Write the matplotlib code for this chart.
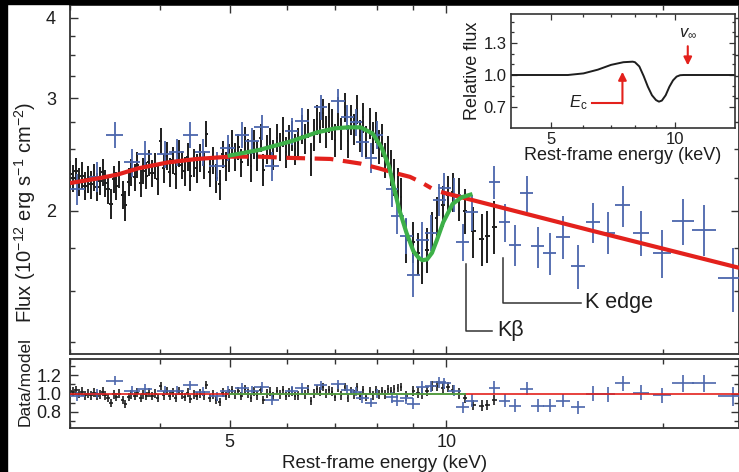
import matplotlib
matplotlib.use('Agg')
import matplotlib.pyplot as plt
from matplotlib.ticker import FixedLocator, NullFormatter
from matplotlib.patches import Rectangle

plt.rcParams['font.family'] = ['Liberation Sans', 'DejaVu Sans']
plt.rcParams['mathtext.fontset'] = 'custom'
plt.rcParams['mathtext.rm'] = 'Liberation Sans'
plt.rcParams['mathtext.it'] = 'Liberation Sans:italic'

# --- data (keV, 1e-12 erg/s/cm2) ---

# dense black spectrum
black_E = [3.00, 3.03, 3.06, 3.09, 3.12, 3.15, 3.18, 3.21, 3.24, 3.27,
           3.30, 3.33, 3.36, 3.39, 3.42, 3.45, 3.48, 3.51, 3.55, 3.58,
           3.62, 3.65, 3.69, 3.72, 3.76, 3.79, 3.83, 3.86, 3.90, 3.94,
           3.97, 4.01, 4.05, 4.09, 4.13, 4.17, 4.21, 4.25, 4.29, 4.33,
           4.37, 4.41, 4.46, 4.50, 4.55, 4.60, 4.64, 4.69, 4.74, 4.79,
           4.84, 4.89, 4.94, 4.99, 5.04, 5.09, 5.14, 5.19, 5.25, 5.30,
           5.35, 5.41, 5.46, 5.52, 5.57, 5.63, 5.69, 5.75, 5.81, 5.87,
           5.93, 5.99, 6.05, 6.11, 6.17, 6.23, 6.30, 6.36, 6.42, 6.48,
           6.54, 6.61, 6.67, 6.74, 6.80, 6.87, 6.94, 7.01, 7.08, 7.15,
           7.22, 7.29, 7.36, 7.44, 7.51, 7.59, 7.66, 7.74, 7.82, 7.90,
           7.98, 8.06, 8.14, 8.22, 8.30, 8.38, 8.47, 8.56, 8.65]
black_F = [2.28, 2.25, 2.31, 2.22, 2.27, 2.19, 2.24, 2.20, 2.26, 2.18,
           2.23, 2.30, 2.21, 2.16, 2.05, 2.24, 2.19, 2.28, 2.12, 2.04,
           2.22, 2.30, 2.26, 2.36, 2.21, 2.31, 2.27, 2.38, 2.29, 2.35,
           2.24, 2.57, 2.33, 2.44, 2.30, 2.40, 2.28, 2.46, 2.36, 2.31,
           2.43, 2.27, 2.38, 2.33, 2.42, 2.36, 2.64, 2.30, 2.40, 2.25,
           2.20, 2.45, 2.35, 2.42, 2.55, 2.43, 2.52, 2.38, 2.58, 2.47,
           2.35, 2.54, 2.44, 2.60, 2.32, 2.50, 2.56, 2.45, 2.60, 2.52,
           2.66, 2.47, 2.58, 2.62, 2.50, 2.55, 2.68, 2.59, 2.74, 2.41,
           2.63, 2.78, 2.70, 2.84, 2.66, 2.80, 2.73, 2.58, 2.86, 2.64,
           2.90, 2.57, 2.78, 2.68, 2.88, 2.62, 2.80, 2.56, 2.74, 2.60,
           2.70, 2.52, 2.58, 2.40, 2.47, 2.34, 2.26, 2.18, 2.10]
black_dF = [0.11, 0.11, 0.11, 0.11, 0.11, 0.11, 0.11, 0.11, 0.11, 0.11,
            0.11, 0.11, 0.11, 0.11, 0.11, 0.11, 0.11, 0.11, 0.11, 0.11,
            0.11, 0.11, 0.11, 0.11, 0.11, 0.11, 0.11, 0.11, 0.11, 0.11,
            0.12, 0.12, 0.12, 0.12, 0.12, 0.12, 0.12, 0.12, 0.12, 0.12,
            0.12, 0.12, 0.12, 0.12, 0.12, 0.12, 0.12, 0.12, 0.12, 0.12,
            0.12, 0.12, 0.12, 0.12, 0.12, 0.12, 0.12, 0.12, 0.12, 0.12,
            0.13, 0.13, 0.13, 0.13, 0.13, 0.13, 0.13, 0.13, 0.13, 0.13,
            0.14, 0.14, 0.14, 0.14, 0.14, 0.14, 0.14, 0.14, 0.14, 0.14,
            0.15, 0.15, 0.15, 0.15, 0.15, 0.15, 0.15, 0.15, 0.15, 0.15,
            0.15, 0.15, 0.15, 0.15, 0.15, 0.15, 0.15, 0.15, 0.15, 0.15,
            0.15, 0.15, 0.15, 0.15, 0.15, 0.15, 0.15, 0.15, 0.15]
black_ratio = [1.03, 1.02, 1.04, 1.00, 1.02, 0.98, 1.00, 0.98, 1.01, 0.97,
               0.99, 1.02, 0.98, 0.95, 0.90, 0.99, 0.96, 1.00, 0.93, 0.89,
               0.96, 0.99, 0.97, 1.01, 0.95, 0.99, 0.97, 1.01, 0.97, 1.00,
               0.95, 1.08, 0.98, 1.03, 0.97, 1.01, 0.95, 1.03, 0.99, 0.96,
               1.01, 0.94, 0.99, 0.97, 1.00, 0.98, 1.09, 0.95, 0.99, 0.93,
               0.91, 1.01, 0.97, 1.00, 1.04, 0.99, 1.03, 0.97, 1.05, 1.00,
               0.95, 1.02, 0.98, 1.04, 0.93, 1.00, 1.02, 0.97, 1.03, 0.99,
               1.04, 0.97, 1.01, 1.02, 0.97, 0.98, 1.03, 0.99, 1.05, 0.92,
               1.00, 1.05, 1.02, 1.07, 1.00, 1.04, 1.02, 0.96, 1.06, 0.98,
               1.07, 0.95, 1.03, 0.99, 1.07, 0.97, 1.04, 0.96, 1.03, 0.98,
               1.04, 0.99, 1.03, 0.99, 1.05, 1.03, 1.05, 1.06, 1.07]
BLACK_DE = 0.02

# sparser black points above the line
blk2_E = [8.80, 9.00, 9.13, 9.26, 9.40, 9.55, 9.70, 9.90, 10.05, 10.20,
          10.40, 10.60, 10.90, 11.19, 11.40, 11.66]
blk2_F = [1.80, 1.79, 1.72, 1.67, 1.74, 1.85, 1.95, 2.04, 2.12, 2.14,
          2.09, 2.00, 1.86, 1.81, 1.83, 1.89]
blk2_dF = [0.14, 0.13, 0.13, 0.13, 0.14, 0.14, 0.15, 0.15, 0.15, 0.15,
           0.16, 0.16, 0.17, 0.17, 0.17, 0.18]
blk2_dE = [0.04, 0.04, 0.05, 0.05, 0.05, 0.05, 0.05, 0.06, 0.06, 0.06,
           0.07, 0.07, 0.08, 0.08, 0.09, 0.09]
blk2_ratio = [0.97, 1.03, 1.01, 1.00, 1.03, 1.08, 1.08, 1.06, 1.07, 1.04,
              1.00, 0.95, 0.88, 0.87, 0.88, 0.93]

# blue spectrum
blue_E = [3.07, 3.27, 3.46, 3.66, 3.81, 4.06, 4.22, 4.41, 4.59, 4.80,
          4.97, 5.20, 5.37, 5.54, 5.72, 6.10, 6.30, 6.69, 7.07, 7.28,
          7.49, 7.64, 7.86, 8.01, 8.41, 8.55, 8.80, 9.00, 9.26, 9.53,
          9.78, 9.94, 10.26, 10.53, 10.84, 11.66, 12.05, 12.44, 12.93, 13.39,
          13.92, 14.51, 15.23, 15.98, 16.77, 17.59, 18.64, 19.94, 21.33, 22.82,
          25.04]
blue_F = [2.16, 2.26, 2.63, 2.38, 2.45, 2.45, 2.47, 2.63, 2.47, 2.35,
          2.51, 2.63, 2.57, 2.70, 2.35, 2.66, 2.76, 2.90, 2.97, 2.80,
          2.75, 2.56, 2.42, 2.63, 2.16, 1.96, 1.83, 1.59, 1.80, 1.85,
          2.08, 2.17, 2.12, 1.79, 1.99, 2.22, 1.92, 1.77, 2.13, 1.76,
          1.72, 1.82, 1.64, 1.92, 1.85, 2.04, 1.85, 1.72, 1.93, 1.87,
          1.57]
blue_dF = [0.12, 0.12, 0.12, 0.12, 0.12, 0.12, 0.12, 0.12, 0.12, 0.12,
           0.12, 0.12, 0.12, 0.12, 0.12, 0.13, 0.13, 0.13, 0.13, 0.13,
           0.13, 0.13, 0.13, 0.13, 0.13, 0.12, 0.12, 0.12, 0.12, 0.12,
           0.12, 0.12, 0.13, 0.12, 0.13, 0.13, 0.13, 0.13, 0.14, 0.13,
           0.13, 0.14, 0.13, 0.14, 0.14, 0.15, 0.15, 0.15, 0.16, 0.17,
           0.18]
blue_dE = [0.08, 0.08, 0.09, 0.09, 0.09, 0.10, 0.10, 0.11, 0.11, 0.12,
           0.12, 0.12, 0.12, 0.13, 0.13, 0.13, 0.14, 0.14, 0.15, 0.15,
           0.15, 0.16, 0.16, 0.16, 0.17, 0.17, 0.18, 0.18, 0.19, 0.19,
           0.20, 0.20, 0.21, 0.22, 0.22, 0.20, 0.22, 0.24, 0.26, 0.27,
           0.30, 0.32, 0.35, 0.37, 0.40, 0.42, 0.50, 0.60, 0.75, 0.87,
           1.20]
blue_ratio = [0.97, 1.00, 1.14, 1.03, 1.05, 1.03, 1.03, 1.09, 1.02, 0.97,
              1.03, 1.06, 1.03, 1.07, 0.93, 1.03, 1.06, 1.09, 1.10, 1.04,
              1.02, 0.95, 0.90, 1.00, 0.96, 0.92, 0.95, 0.89, 1.07, 1.08,
              1.12, 1.11, 1.03, 0.85, 0.92, 1.06, 0.92, 0.87, 1.05, 0.87,
              0.87, 0.92, 0.85, 1.00, 0.99, 1.11, 1.01, 0.98, 1.11, 1.11,
              0.97]
blue_dR = [0.05, 0.05, 0.05, 0.05, 0.05, 0.05, 0.05, 0.05, 0.05, 0.05,
           0.05, 0.05, 0.05, 0.05, 0.05, 0.05, 0.05, 0.05, 0.05, 0.05,
           0.05, 0.05, 0.05, 0.05, 0.06, 0.06, 0.06, 0.06, 0.06, 0.06,
           0.06, 0.06, 0.06, 0.06, 0.07, 0.07, 0.07, 0.07, 0.07, 0.07,
           0.07, 0.07, 0.07, 0.08, 0.08, 0.08, 0.08, 0.08, 0.09, 0.09,
           0.10]

# continuum model (red): solid below 5 keV, dashed under the line, solid tail
cont_lo_E = [3.0, 3.3, 3.5, 3.73, 4.1, 4.5, 5.0]
cont_lo_F = [2.21, 2.25, 2.28, 2.33, 2.38, 2.41, 2.43]
cont_mid_E = [5.0, 5.5, 6.0, 6.9, 7.6, 8.06, 8.5, 8.9, 9.2, 9.53]
cont_mid_F = [2.43, 2.43, 2.42, 2.41, 2.37, 2.33, 2.29, 2.26, 2.22, 2.17]
cont_hi_E = [9.83, 16.0, 25.5]
cont_hi_F = [2.14, 1.86, 1.63]

# total model (green)
line_E = [5.0, 5.5, 6.1, 6.6, 7.0, 7.3, 7.6, 7.9, 8.13, 8.33, 8.45, 8.6,
          8.8, 9.0, 9.15, 9.26, 9.4, 9.55, 9.7, 9.9, 10.2, 10.5, 10.8]
line_F = [2.44, 2.49, 2.57, 2.65, 2.69, 2.70, 2.70, 2.64, 2.51, 2.34, 2.18, 2.01,
          1.85, 1.73, 1.69, 1.675, 1.68, 1.72, 1.80, 1.92, 2.05, 2.10, 2.12]

# inset: relative absorption profile
rel_E = [4.0, 5.5, 6.0, 6.5, 7.0, 7.5, 7.9, 8.0, 8.2, 8.4, 8.6, 8.8,
         9.0, 9.15, 9.3, 9.5, 9.7, 9.9, 10.1, 10.3, 10.5, 14.0]
rel_F = [1.0, 1.0, 1.015, 1.05, 1.095, 1.12, 1.125, 1.12, 1.08, 0.99, 0.89, 0.81,
         0.765, 0.75, 0.76, 0.81, 0.89, 0.95, 0.985, 0.998, 1.0, 1.0]

W, H = 739, 472
RED = '#e3211c'
GREEN = '#3db048'
BLUE = '#4b66ac'
BLK = '#1e1e1e'
SPINE = '#333333'

fig = plt.figure(figsize=(W / 100, H / 100), dpi=100)
ax = fig.add_axes([70 / W, 1 - 354 / H, 1 - 70 / W, (354 - 5) / H])
axr = fig.add_axes([70 / W, 1 - 428 / H, 1 - 70 / W, (428 - 359) / H], sharex=ax)

# --- main spectrum ---
ax.errorbar(black_E, black_F, yerr=black_dF, xerr=BLACK_DE, fmt='none',
            ecolor=BLK, elinewidth=1.4, capsize=0, zorder=2)
ax.errorbar(blk2_E, blk2_F, yerr=blk2_dF, xerr=blk2_dE, fmt='none',
            ecolor=BLK, elinewidth=1.4, capsize=0, zorder=2)
ax.errorbar(blue_E, blue_F, yerr=blue_dF, xerr=blue_dE, fmt='none',
            ecolor=BLUE, elinewidth=1.3, capsize=0, zorder=3)
ax.plot(cont_lo_E, cont_lo_F, color=RED, lw=3, solid_capstyle='butt', zorder=4)
ax.plot(cont_mid_E, cont_mid_F, color=RED, lw=3, ls=(0, (4.5, 2.3)), zorder=4)
ax.plot(cont_hi_E, cont_hi_F, color=RED, lw=3, solid_capstyle='butt', zorder=4)
ax.plot(line_E, line_F, color=GREEN, lw=3, zorder=5)

# K beta / K edge markers
ax.plot([10.66, 10.66, 11.56], [1.65, 1.30, 1.30], color=SPINE, lw=1.1)
ax.text(11.75, 1.30, 'K\u03b2', fontsize=15.5, va='center', ha='left', color=BLK)
ax.plot([11.97, 11.97, 15.4], [1.69, 1.437, 1.437], color=SPINE, lw=1.1)
ax.text(15.6, 1.437, 'K edge', fontsize=15.5, va='center', ha='left', color=BLK)

ax.set_xscale('log')
ax.set_yscale('log')
ax.set_xlim(3.0, 25.5)
ax.set_ylim(1.196, 4.19)
ax.set_yticks([2, 3, 4])
ax.set_yticklabels(['2', '3', '4'])
ax.yaxis.set_minor_locator(FixedLocator([1.25, 1.5, 1.75, 2.25, 2.5, 2.75, 3.25, 3.5, 3.75]))
ax.yaxis.set_minor_formatter(NullFormatter())
ax.set_xticks([5, 10])
ax.xaxis.set_minor_locator(FixedLocator([3, 4, 6, 7, 8, 9, 20]))
ax.xaxis.set_minor_formatter(NullFormatter())
ax.tick_params(axis='x', labelbottom=False)

# --- residuals ---
axr.axhline(1.0, color=RED, lw=1.2, zorder=4)
axr.plot([5.0, 10.6], [1.0, 1.0], color=GREEN, lw=1.2, zorder=5)
axr.errorbar(black_E, black_ratio, yerr=0.045, xerr=BLACK_DE, fmt='none',
             ecolor=BLK, elinewidth=1.2, capsize=0, zorder=2)
axr.errorbar(blk2_E, blk2_ratio, yerr=0.055, xerr=blk2_dE, fmt='none',
             ecolor=BLK, elinewidth=1.2, capsize=0, zorder=2)
axr.errorbar(blue_E, blue_ratio, yerr=blue_dR, xerr=blue_dE, fmt='none',
             ecolor=BLUE, elinewidth=1.2, capsize=0, zorder=3)
axr.set_ylim(0.627, 1.373)
axr.set_yticks([0.8, 1.0, 1.2])
axr.set_yticklabels(['0.8', '1.0', '1.2'])
axr.yaxis.set_minor_locator(FixedLocator([0.7, 0.9, 1.1, 1.3]))
axr.set_xticks([5, 10])
axr.set_xticklabels(['5', '10'])
axr.xaxis.set_minor_locator(FixedLocator([3, 4, 6, 7, 8, 9, 20]))
axr.xaxis.set_minor_formatter(NullFormatter())

for a in (ax, axr):
    a.tick_params(which='both', direction='in', top=True, right=True,
                  colors=SPINE, labelcolor=BLK, labelsize=13, width=1.0)
    a.tick_params(which='major', length=6)
    a.tick_params(which='minor', length=3.5)
    for s in a.spines.values():
        s.set_color(SPINE)
        s.set_linewidth(1.3)
ax.tick_params(axis='y', pad=10)
axr.tick_params(axis='y', pad=6)
axr.tick_params(axis='x', pad=4)

fig.text(25 / W, 1 - 212 / H, r'Flux (10$^{-12}$ erg s$^{-1}$ cm$^{-2}$)',
         rotation=90, ha='center', va='center', fontsize=14.5, color=BLK)
fig.text(25 / W, 1 - 382 / H, 'Data/model', rotation=90, ha='center',
         va='center', fontsize=12.5, color=BLK)
fig.text(385 / W, 1 - 463 / H, 'Rest-frame energy (keV)', ha='center',
         va='center', fontsize=13.5, color=BLK)

# --- inset ---
axi = fig.add_axes([511 / W, 1 - 128 / H, 224 / W, 114 / H])
axi.plot(rel_E, rel_F, color=BLK, lw=1.4)
axi.set_xscale('log')
axi.set_xlim(4, 14)
axi.set_ylim(0.503, 1.572)
axi.set_xticks([5, 10])
axi.set_xticklabels(['5', '10'])
axi.xaxis.set_minor_locator(FixedLocator([6, 7, 8, 9]))
axi.xaxis.set_minor_formatter(NullFormatter())
axi.set_yticks([0.7, 1.0, 1.3])
axi.set_yticklabels(['0.7', '1.0', '1.3'])
axi.yaxis.set_minor_locator(FixedLocator([0.8, 0.9, 1.1, 1.2, 1.4, 1.5]))
axi.tick_params(which='both', direction='in', top=True, right=True,
                colors=SPINE, labelcolor=BLK, labelsize=12, width=0.9, pad=3)
axi.tick_params(which='major', length=4)
axi.tick_params(which='minor', length=2.5)
for s in axi.spines.values():
    s.set_color(SPINE)
    s.set_linewidth(1.2)
axi.set_xlabel('Rest-frame energy (keV)', fontsize=13, labelpad=0, color=BLK)
axi.set_ylabel('Relative flux', fontsize=13, labelpad=2, color=BLK)

# E_c and v_inf arrows
axi.plot([6.29, 7.46], [0.74, 0.74], color=RED, lw=1.5)
axi.annotate('', xy=(7.46, 1.03), xytext=(7.46, 0.733),
             arrowprops=dict(arrowstyle='-|>', color=RED, lw=1.5,
                             mutation_scale=12, shrinkA=0, shrinkB=0))
axi.text(6.15, 0.74, r'$E_{\rm c}$', fontsize=12, ha='right', va='center', color=BLK)
axi.annotate('', xy=(10.75, 1.09), xytext=(10.75, 1.27),
             arrowprops=dict(arrowstyle='-|>', color=RED, lw=1.5,
                             mutation_scale=12, shrinkA=0, shrinkB=0))
axi.text(10.75, 1.40, r'$v_{\infty}$', fontsize=12, ha='center', va='center', color=BLK)

# black border strips from the original crop
fig.patches.append(Rectangle((0, 0), 7 / W, 1, transform=fig.transFigure,
                             color='black', zorder=10))
fig.patches.append(Rectangle((0, 1 - 4 / H), 1, 4 / H, transform=fig.transFigure,
                             color='black', zorder=10))

fig.savefig('out.png', dpi=100, facecolor='white')
